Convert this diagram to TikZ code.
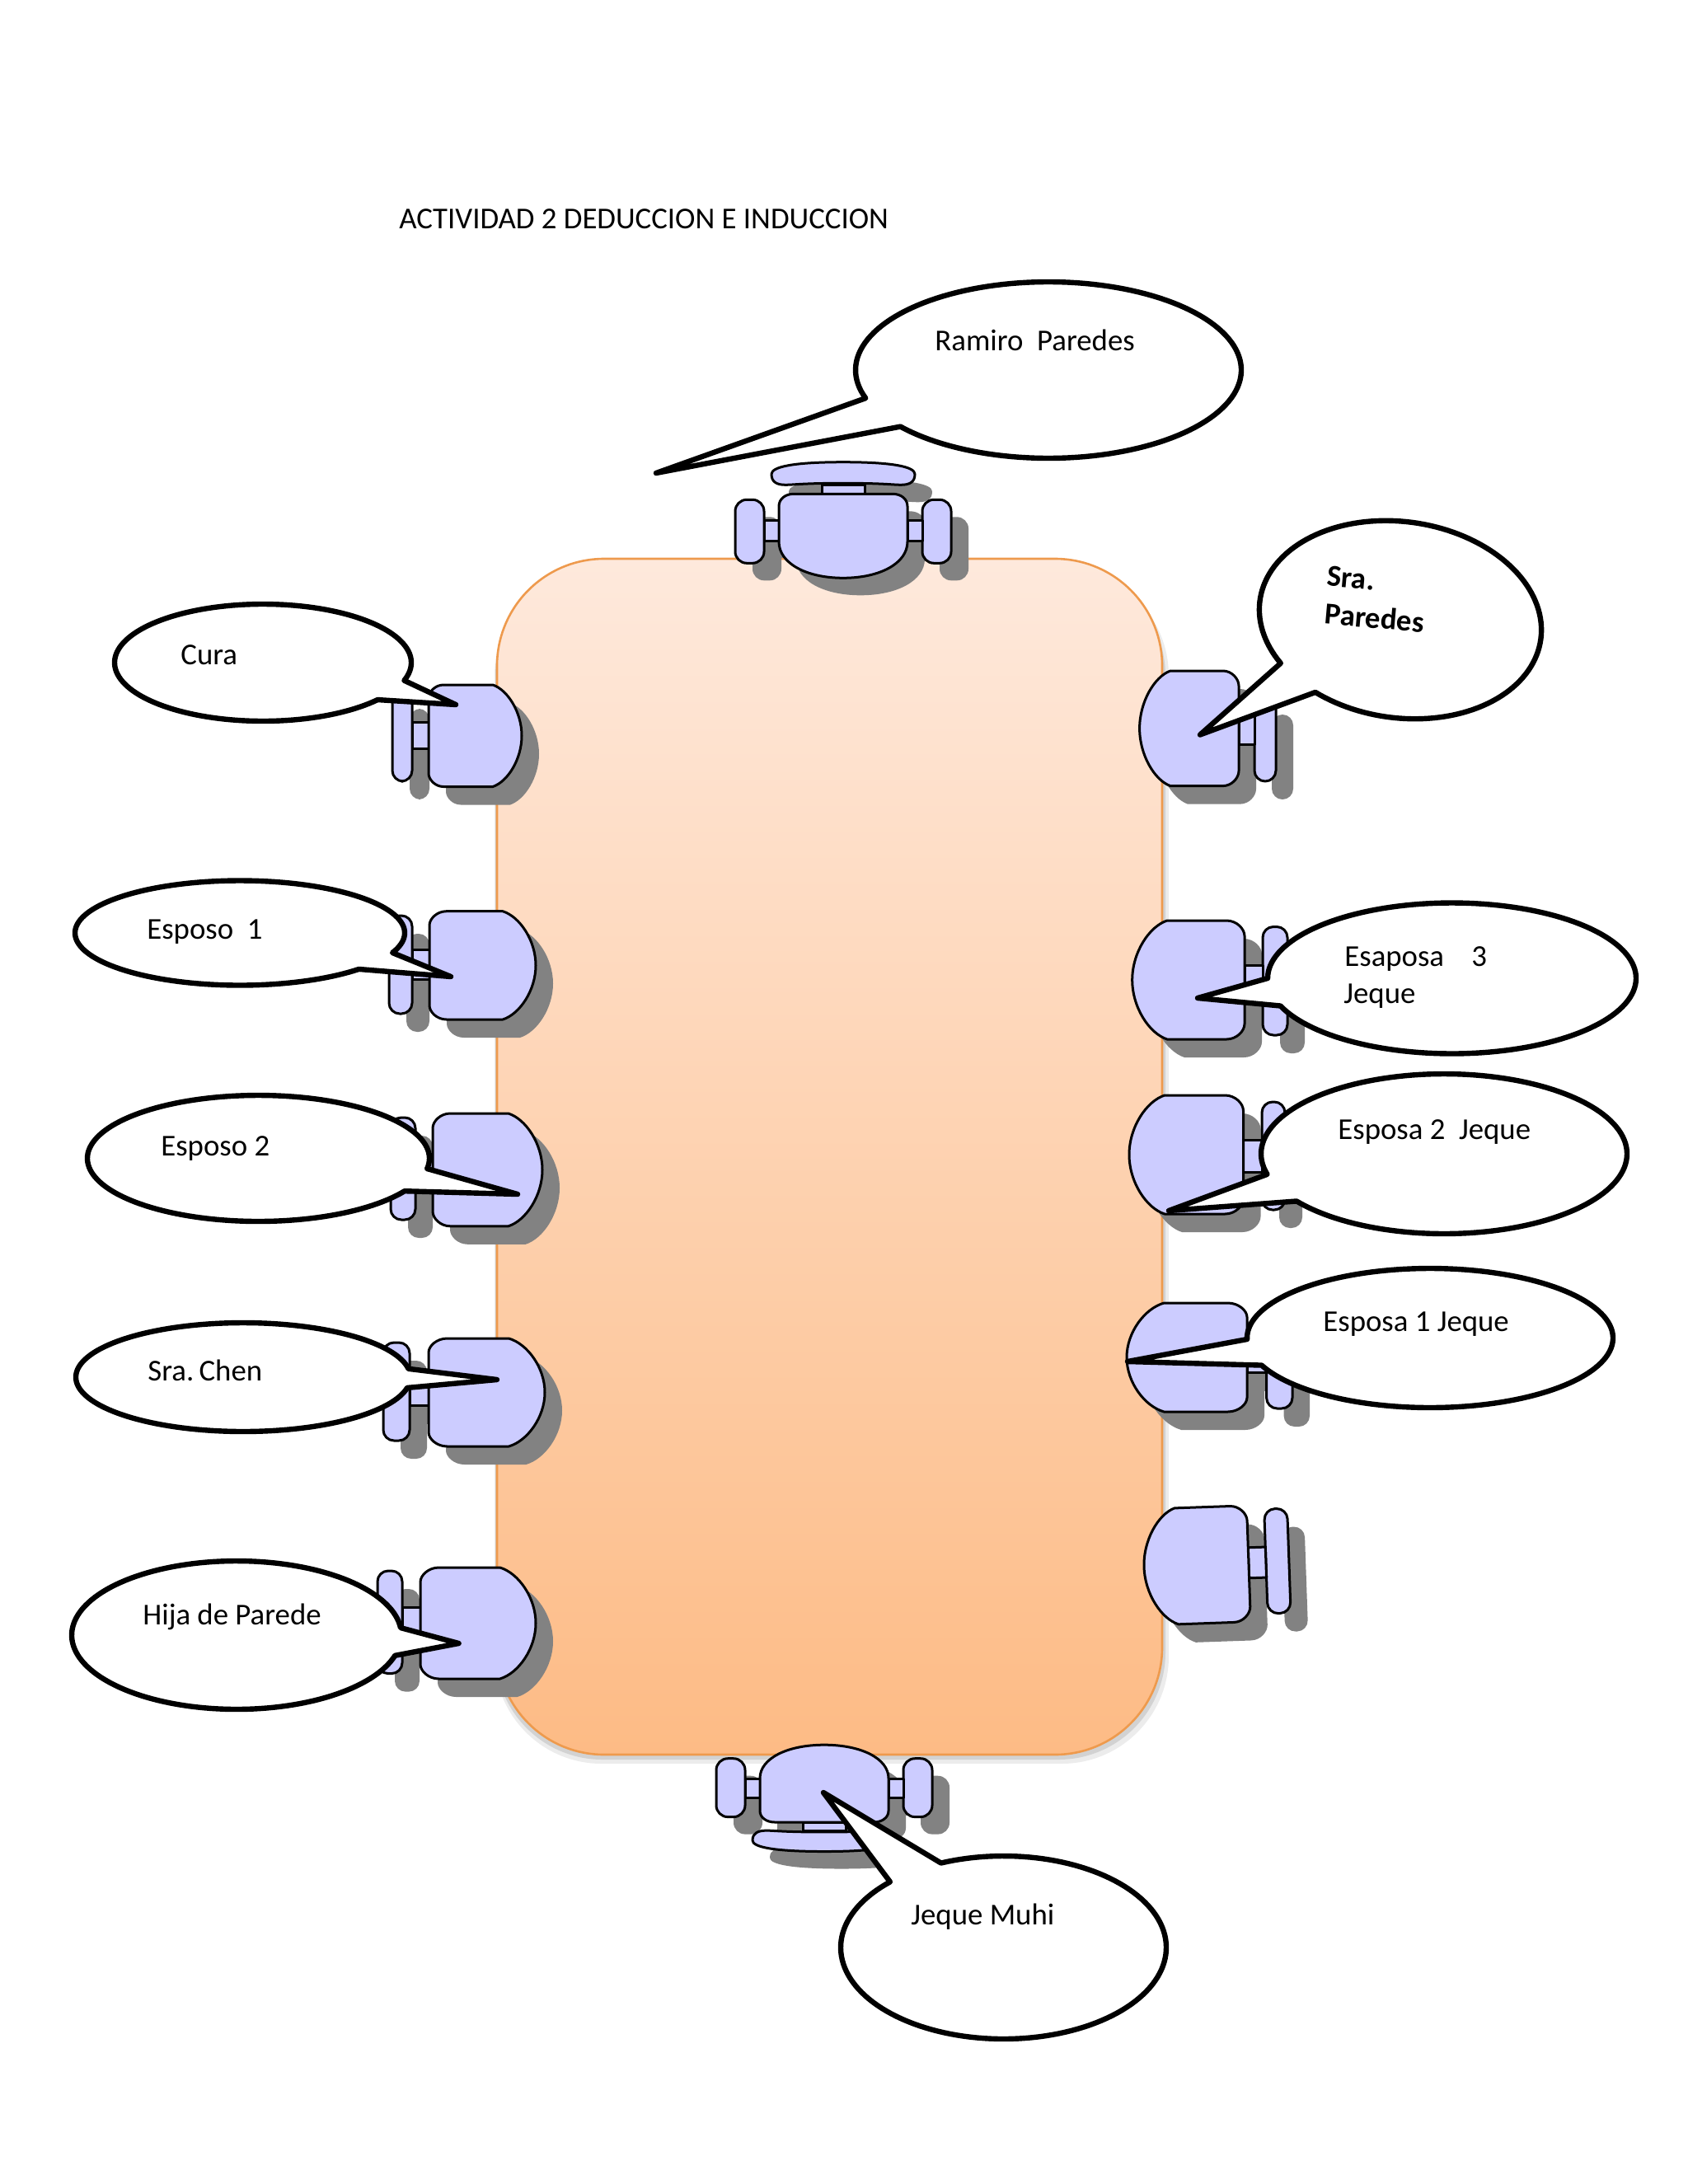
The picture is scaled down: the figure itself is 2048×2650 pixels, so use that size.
\documentclass[tikz,border=0pt]{standalone}
\usepackage{fontspec}
\setmainfont{Carlito}
\definecolor{seatblue}{HTML}{CCCCFF}
\definecolor{chairshadow}{HTML}{828282}
\definecolor{tabletop}{HTML}{FEE9DC}
\definecolor{tablebottom}{HTML}{FDBB85}
\definecolor{tableedge}{HTML}{EE9A4D}
\tikzset{
  chairpart/.style={draw=black,line width=1.5pt,fill=seatblue,line join=round},
  shadowpart/.style={fill=chairshadow},
  bubble/.style={draw=black,line width=3.2pt,fill=white,line join=round},
  label/.style={font=\fontsize{18.4}{22.4}\selectfont,anchor=west,inner sep=0pt,text=black},
  boldlabel/.style={label,font=\fontsize{18.4}{22.4}\selectfont\bfseries,rotate=-5},
}
% side-on chair, uses the \foreach variables below
\newcommand\sidechairparts[1]{%
  \path[#1,rounded corners=6.5pt] (\bkn,\bkt) rectangle (\bkf,\bkb);
  \path[#1] (\xb,\ct) rectangle (\bkn,\cb);
  \pgfmathsetmacro\seatw{\xf-\xb}
  \pgfmathsetmacro\seath{\yb-\yt}
  \begin{scope}[shift={(\xb,\yt)},xscale=\seatw,yscale=\seath]
    \path[#1] (0,.13) .. controls (0,.07) and (.07,0) .. (.16,0) -- (.69,0)
      .. controls (.85,.05) and (1,.27) .. (1,.5)
      .. controls (1,.73) and (.85,.95) .. (.69,1) -- (.16,1)
      .. controls (.07,1) and (0,.93) .. (0,.87) -- cycle;
  \end{scope}
}
% chair at the head or foot of the table; local origin = middle of the seat back
\newcommand\headchairparts[1]{%
  \path[#1,rounded corners=7pt] (-131,7) rectangle (-96,84);
  \path[#1,rounded corners=7pt] (96,7) rectangle (131,84);
  \path[#1] (-96,32) rectangle (-78,56.7);
  \path[#1] (78,32) rectangle (96,56.7);
  \path[#1] (-26,-11) rectangle (26,0);
  \path[#1] (-78,15) .. controls (-78,6) and (-70,0) .. (-60,0) -- (60,0)
    .. controls (70,0) and (78,6) .. (78,15) -- (78,58)
    .. controls (78,84) and (45,102) .. (0,102)
    .. controls (-45,102) and (-78,84) .. (-78,58) -- cycle;
  \path[#1] (-87,-24) .. controls (-87,-33) and (-60,-38.6) .. (0,-38.6)
    .. controls (60,-38.6) and (87,-33) .. (87,-24)
    .. controls (87,-14) and (80,-11) .. (70,-11)
    .. controls (60,-11) and (50,-13) .. (0,-13)
    .. controls (-50,-13) and (-60,-11) .. (-70,-11)
    .. controls (-80,-11) and (-87,-14) .. (-87,-24) -- cycle;
}
\begin{document}
\begin{tikzpicture}[x=0.5pt,y=-0.5pt]
\useasboundingbox (0,0) rectangle (2048,2650);

% table
\fill[gray!15,rounded corners=65pt] (600,690) rectangle (1418,2140);
\fill[gray!35,rounded corners=65pt] (601,690) rectangle (1414,2135);
\draw[tableedge,line width=1.3pt,top color=tabletop,bottom color=tablebottom,rounded corners=65pt]
  (603,678) rectangle (1410,2129);

% head and foot chairs
\begin{scope}[shift={(1044,620.3)}]\headchairparts{shadowpart}\end{scope}
\begin{scope}[shift={(1023,599.3)}]\headchairparts{chairpart}\end{scope}
\begin{scope}[shift={(1021,2232)},yscale=-0.92]\headchairparts{shadowpart}\end{scope}
\begin{scope}[shift={(1000,2211)},yscale=-0.92]\headchairparts{chairpart}\end{scope}

% side chairs: seat back x / seat front x / seat top / seat bottom / link top / link bottom
%              / back near x / back far x / back top / back bottom / rotation about seat centre
\foreach \xb/\xf/\yt/\yb/\ct/\cb/\bkn/\bkf/\bkt/\bkb/\rot in {
  520/633/831/954.5/876/908.6/500/476/838/948/0,
  521/650/1105.7/1237/1152.7/1188/500/472/1111/1230/0,
  525/658/1351/1487.8/1400/1438/504/474/1356/1480/0,
  520/661/1624/1755/1673/1705.6/497/465/1629/1748/0,
  510/650/1902/2037/1950.5/1988/488/458/1906/2030.6/0,
  1503/1382.6/814/953.6/866/903.6/1522/1548/845/948/0,
  1510/1373.7/1117/1261/1171/1212/1532/1562/1124.5/1256/0,
  1508.5/1370/1329/1473/1383/1422/1531/1559/1337/1468/0,
  1513/1367/1581/1713/1628/1665.7/1536.6/1568/1585/1709/0,
  1515/1388/1829/1970/1880/1917/1536/1564/1834/1961/2%
}{
  \pgfmathsetmacro\cxx{(\xb+\xf)/2}
  \pgfmathsetmacro\cyy{(\yt+\yb)/2}
  \begin{scope}[shift={(21,22)},rotate around={\rot:(\cxx,\cyy)}]\sidechairparts{shadowpart}\end{scope}
  \begin{scope}[rotate around={\rot:(\cxx,\cyy)}]\sidechairparts{chairpart}\end{scope}
}

% speech bubbles: centre / radii / tilt / tail base A / tail tip / tail base B
\foreach \cx/\cy/\rx/\ry/\ph/\ax/\ay/\tx/\ty/\bx/\by in {
  1272/449/234/107/0/1051/483/796/574/1094/517,
  319/804/180/71/0/489/825.5/553/855/456.5/848.5,
  291/1132/200/63.5/0/476/1156/547/1185/434.6/1175.7,
  313.5/1405.5/207.5/76.5/0/517.5/1418/628/1449/490/1445,
  295/1671/203/66/0/497.7/1660.7/603/1674/495.6/1684,
  287/1984/200/90/0/487/1975/556.6/1994/481/2009,
  1699/752/172/119/8/1553/805/1456/891.5/1594.6/841,
  1761.5/1187/223.5/91.5/0/1539/1187/1453/1211/1553.6/1220.5,
  1752/1400/222/97/0/1540/1424.6/1418/1469/1574.5/1457,
  1735/1623.5/222/84.5/0/1513/1625/1368/1652/1531/1656.5,
  1217.5/2363/197.5/111/0/1081/2284/999/2175/1142/2261%
}{
  \pgfmathsetmacro\angA{atan2((-(\ax-\cx)*sin(\ph)+(\ay-\cy)*cos(\ph))/\ry,((\ax-\cx)*cos(\ph)+(\ay-\cy)*sin(\ph))/\rx)}
  \pgfmathsetmacro\angB{atan2((-(\bx-\cx)*sin(\ph)+(\by-\cy)*cos(\ph))/\ry,((\bx-\cx)*cos(\ph)+(\by-\cy)*sin(\ph))/\rx)}
  \pgfmathsetmacro\angT{atan2((-(\tx-\cx)*sin(\ph)+(\ty-\cy)*cos(\ph))/\ry,((\tx-\cx)*cos(\ph)+(\ty-\cy)*sin(\ph))/\rx)}
  \pgfmathsetmacro\sweep{Mod(\angB-\angA,360)}
  \pgfmathsetmacro\tippos{Mod(\angT-\angA,360)}
  \pgfmathsetmacro\sa{\tippos<\sweep ? \angB : \angA}
  \pgfmathsetmacro\se{\tippos<\sweep ? \angB+360-\sweep : \angA+\sweep}
  \draw[bubble] plot[domain=\sa:\se,samples=140]
    ({\cx+\rx*cos(\x)*cos(\ph)-\ry*sin(\x)*sin(\ph)},{\cy+\rx*cos(\x)*sin(\ph)+\ry*sin(\x)*cos(\ph)})
    -- (\tx,\ty) -- cycle;
}

% texts
\node[label] (title) at (484,266) {ACTIVIDAD 2 DEDUCCION E INDUCCION};
\node[label] (ramiro) at (1134,413) {Ramiro\ \ Paredes};
\node[boldlabel] (sra) at (1610,699) {Sra.};
\node[boldlabel] (paredes) at (1607,744) {Paredes};
\node[label] (cura) at (219,795) {Cura};
\node[label] (esposoa) at (178,1131) {Esposo\ \ 1};
\node[label] (esposob) at (195,1394) {Esposo 2};
\node[label] (chen) at (179,1663) {Sra.\kern-1pt\ Chen};
\node[label] (hija) at (173,1962) {Hija de Parede};
\node[label] (esaposa) at (1631,1164) {Esaposa\ \ \ \ 3};
\node[label] (jequeb) at (1630,1209) {Jeque};
\node[label] (esposadb) at (1623,1374) {Esposa 2\ \ Jeque};
\node[label] (esposada) at (1605,1607) {Esposa 1 Jeque};
\node[label] (muhi) at (1105,2326) {Jeque Muhi};
\end{tikzpicture}
\end{document}
